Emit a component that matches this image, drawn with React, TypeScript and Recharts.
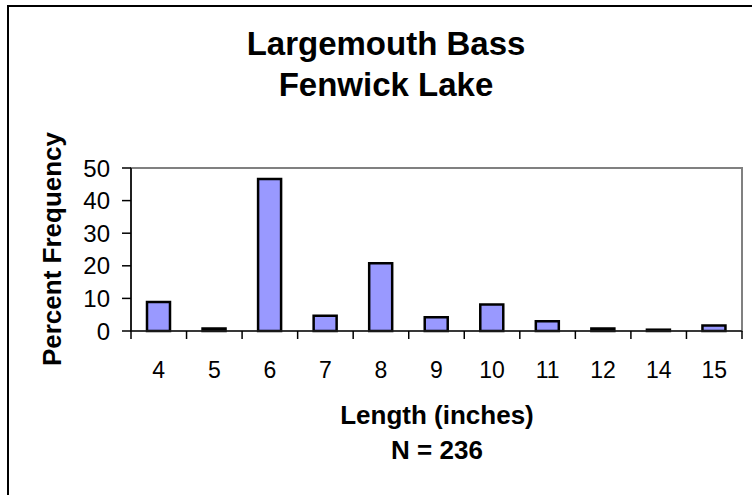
import React from "react";
import { BarChart, Bar, XAxis, YAxis, ReferenceArea } from "recharts";

const lengths = ["4", "5", "6", "7", "8", "9", "10", "11", "12", "14", "15"];
const percentFrequency = [8.9, 0.8, 46.6, 4.7, 20.8, 4.2, 8.1, 3.0, 0.8, 0.4, 1.7];
const majorTicks = [0, 10, 20, 30, 40, 50];
const minorTicks = [0, 2, 4, 6, 8, 10, 12, 14, 16, 18, 20, 22, 24, 26, 28, 30, 32, 34, 36, 38, 40, 42, 44, 46, 48, 50];
const titleLines = ["Largemouth Bass", "Fenwick Lake"];
const xTitleLines = ["Length (inches)", "N = 236"];
const yTitle = "Percent Frequency";

const data = lengths.map((l, i) => ({ length: l, pct: percentFrequency[i] }));

const FONT = "'Liberation Sans', Arial, Helvetica, sans-serif";
const X_TICK_SIZE = 8;
const X_TICK_MARGIN = 23;

const XTick = (props: any) => {
  const { x, y, payload, index, visibleTicksCount, width } = props;
  const n = visibleTicksCount || lengths.length;
  const half = payload && typeof payload.offset === "number" && payload.offset > 0 ? payload.offset : width / n / 2;
  const axisY = y - X_TICK_SIZE - X_TICK_MARGIN;
  return (
    <g>
      <line x1={x - half} x2={x - half} y1={axisY} y2={axisY + X_TICK_SIZE} stroke="#000" strokeWidth={1.5} />
      {index === n - 1 && (
        <line x1={x + half} x2={x + half} y1={axisY} y2={axisY + X_TICK_SIZE} stroke="#000" strokeWidth={1.5} />
      )}
      <text x={x} y={y} dy="0.71em" textAnchor="middle" fontSize={23} fontFamily={FONT} fill="#000">
        {payload.value}
      </text>
    </g>
  );
};

const EmptyTick = () => <g />;

export default function App() {
  return (
    <div style={{ position: "absolute", left: 0, top: 0, width: 752, height: 495, background: "#fff", overflow: "hidden", fontFamily: FONT }}>
      <div style={{ position: "absolute", left: 7, top: 5, width: 800, height: 600, borderLeft: "2px solid #000", borderTop: "2px solid #000" }} />
      <div style={{ position: "absolute", left: 0, top: 0 }}>
        <BarChart width={752} height={495} data={data} margin={{ top: 168, right: 10, bottom: 0, left: 0 }} barSize={23}>
          <ReferenceArea y1={0} y2={50} yAxisId="major" fill="none" stroke="#808080" strokeWidth={2} ifOverflow="visible" />
          <XAxis
            dataKey="length"
            height={164}
            tickLine={false}
            tickSize={X_TICK_SIZE}
            tickMargin={X_TICK_MARGIN}
            axisLine={{ stroke: "#202020", strokeWidth: 1.5 }}
            tick={<XTick />}
            interval={0}
          />
          <YAxis
            yAxisId="major"
            width={131}
            domain={[0, 50]}
            ticks={majorTicks}
            interval={0}
            tickSize={9}
            tickMargin={12}
            axisLine={{ stroke: "#000", strokeWidth: 1.5 }}
            tickLine={{ stroke: "#000", strokeWidth: 1.5 }}
            tick={{ fontSize: 24, fontFamily: FONT, fill: "#000" }}
          />
          <YAxis
            yAxisId="minor"
            orientation="left"
            mirror
            width={1}
            domain={[0, 50]}
            ticks={minorTicks}
            interval={0}
            tickSize={5}
            axisLine={false}
            tickLine={{ stroke: "#000", strokeWidth: 1 }}
            tick={<EmptyTick />}
          />
          <Bar dataKey="pct" yAxisId="major" fill="#9999FF" stroke="#000" strokeWidth={2.5} isAnimationActive={false} />
        </BarChart>
      </div>
      <svg width={752} height={495} style={{ position: "absolute", left: 0, top: 0, pointerEvents: "none" }}>
        {titleLines.map((t, i) => (
          <text key={t} x={386} y={55 + i * 41} textAnchor="middle" fontFamily={FONT} fontWeight="bold" fontSize={33} fill="#000">
            {t}
          </text>
        ))}
        {xTitleLines.map((t, i) => (
          <text key={t} x={437} y={424 + i * 35} textAnchor="middle" fontFamily={FONT} fontWeight="bold" fontSize={26} fill="#000">
            {t}
          </text>
        ))}
        <text x={61} y={249} transform="rotate(-90 61 249)" textAnchor="middle" fontFamily={FONT} fontWeight="bold" fontSize={26} fill="#000">
          {yTitle}
        </text>
      </svg>
    </div>
  );
}
